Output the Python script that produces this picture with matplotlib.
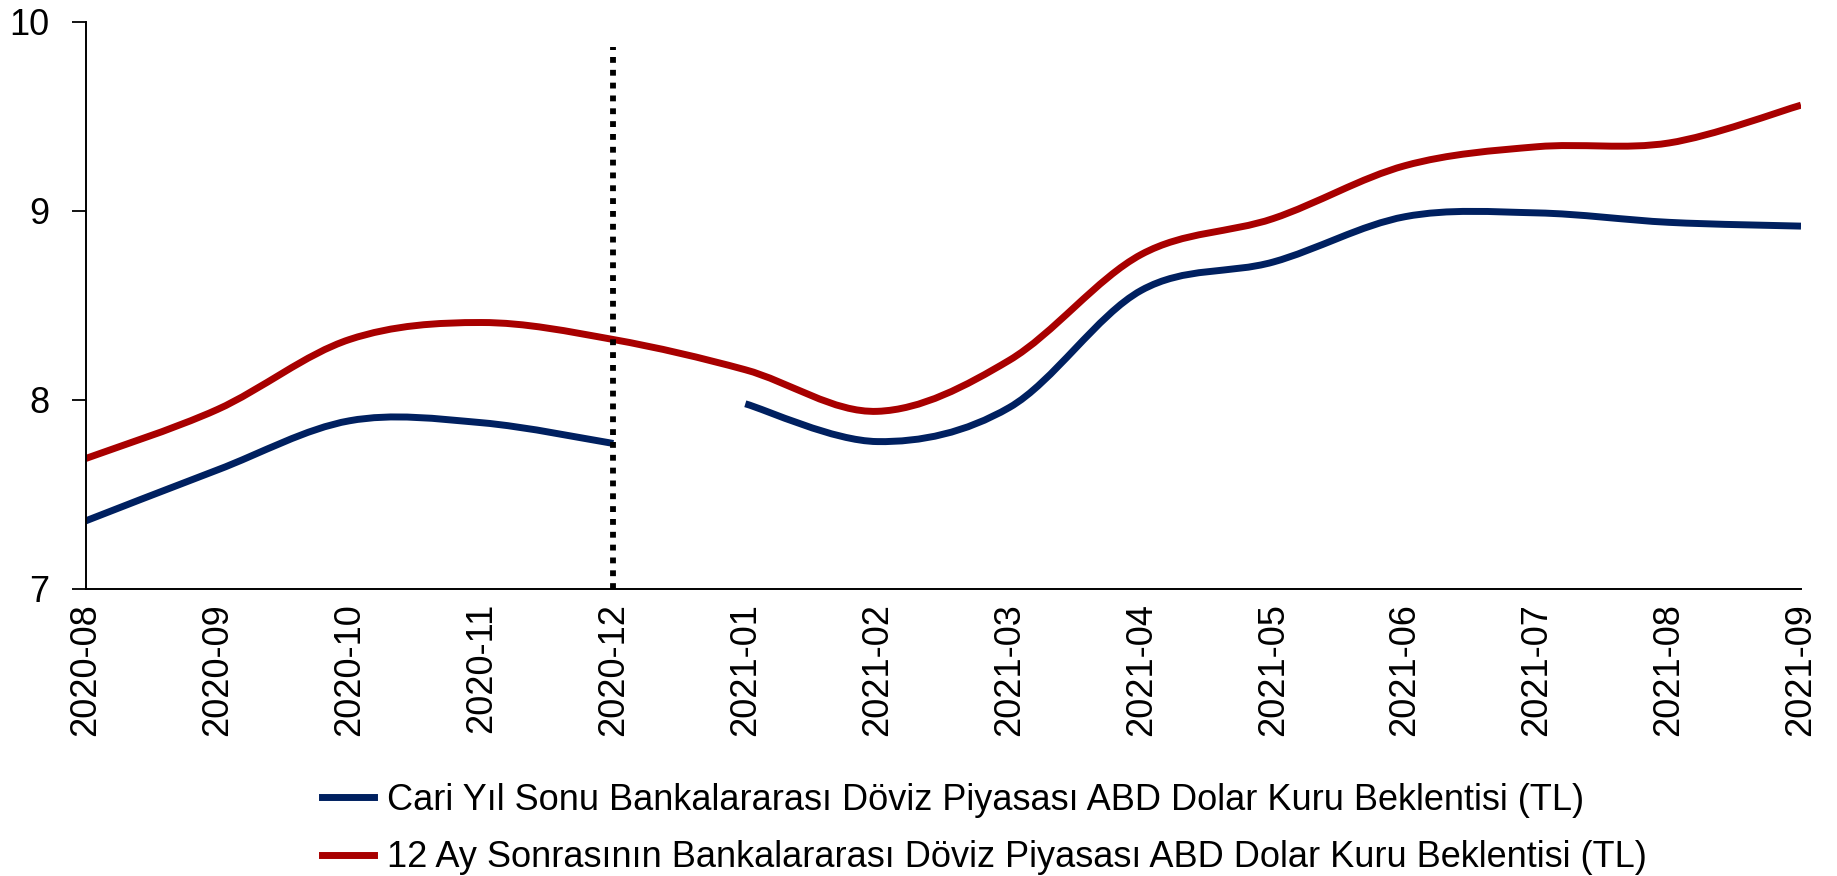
import matplotlib
matplotlib.use("Agg")
import matplotlib.pyplot as plt
import numpy as np
from matplotlib.path import Path
from matplotlib.patches import PathPatch

plt.rcParams["font.family"] = ["Liberation Sans", "DejaVu Sans"]

months = ["2020-08", "2020-09", "2020-10", "2020-11", "2020-12", "2021-01", "2021-02",
          "2021-03", "2021-04", "2021-05", "2021-06", "2021-07", "2021-08", "2021-09"]
# current year-end expectation (resets in January, so 2020-12 -> 2021-01 is not joined)
cari_yil = [7.36, 7.63, 7.89, 7.88, 7.77, 7.98, 7.78, 7.96, 8.58, 8.73, 8.97, 8.99, 8.94, 8.92]
on_iki_ay = [7.69, 7.95, 8.32, 8.41, 8.32, 8.16, 7.94, 8.21, 8.77, 8.96, 9.24, 9.34, 9.36, 9.56]
break_after = "2020-12"
marker_month = "2020-12"
marker_top = 9.87

label_cari = "Cari Yıl Sonu Bankalararası Döviz Piyasası ABD Dolar Kuru Beklentisi (TL)"
label_12ay = "12 Ay Sonrasının Bankalararası Döviz Piyasası ABD Dolar Kuru Beklentisi (TL)"

BLUE = "#002060"
RED = "#A80000"
LW = 5.0


def smooth_path(x, y):
    """Excel-like smoothed line: cubic bezier through points (catmull-rom style)."""
    pts = np.column_stack([x, y]).astype(float)
    verts = [pts[0]]
    codes = [Path.MOVETO]
    n = len(pts)
    for i in range(n - 1):
        p0 = pts[i - 1] if i > 0 else pts[i]
        p1 = pts[i]
        p2 = pts[i + 1]
        p3 = pts[i + 2] if i + 2 < n else pts[i + 1]
        c1 = p1 + (p2 - p0) / 6.0
        c2 = p2 - (p3 - p1) / 6.0
        verts += [c1, c2, p2]
        codes += [Path.CURVE4] * 3
    return Path(verts, codes)


def add_line(ax, x, y, color, label=None):
    patch = PathPatch(smooth_path(x, y), facecolor="none", edgecolor=color,
                      lw=LW, capstyle="butt", joinstyle="round")
    ax.add_patch(patch)
    if label:
        ax.plot([], [], color=color, lw=LW, label=label)


fig = plt.figure(figsize=(18.37, 8.76), dpi=100)
ax = fig.add_axes([85.5 / 1837, 1 - 589 / 876, (1801 - 85.5) / 1837, (589 - 22) / 876])

x = np.arange(len(months))
k = months.index(break_after) + 1
cari = np.array(cari_yil)
add_line(ax, x[:k], cari[:k], BLUE, label_cari)
add_line(ax, x[k:], cari[k:], BLUE)
add_line(ax, x, np.array(on_iki_ay), RED, label_12ay)

xm = months.index(marker_month)
ax.plot([xm, xm], [7, marker_top], color="black", lw=4.2, dashes=(1, 1.2),
        dash_capstyle="butt")

ax.set_xlim(0, len(months) - 1)
ax.set_ylim(7, 10)
ax.set_yticks([7, 8, 9, 10])
ax.set_xticks(x)
ax.set_xticklabels(months, rotation=90)
ax.tick_params(axis="y", labelsize=26, length=10, width=1.3, pad=16, direction="out")
ax.tick_params(axis="x", labelsize=26, length=0, pad=10)
for s in ["top", "right"]:
    ax.spines[s].set_visible(False)
for s in ["left", "bottom"]:
    ax.spines[s].set_linewidth(1.4)

fig.legend(loc="upper left", bbox_to_anchor=(322 / 1837, 1 - 783 / 876), frameon=False,
           fontsize=26, handlelength=1.45, handletextpad=0.35, labelspacing=0.62,
           borderpad=0, borderaxespad=0)

fig.savefig("out.png", dpi=100)
